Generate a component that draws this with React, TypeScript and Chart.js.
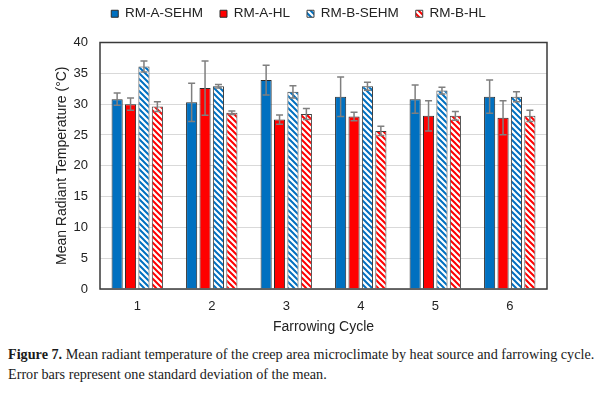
import React, { useEffect, useRef } from 'react';
import { Chart, registerables } from 'chart.js';

Chart.register(...registerables);

const cycles = ['1', '2', '3', '4', '5', '6'];
const seriesNames = ['RM-A-SEHM', 'RM-A-HL', 'RM-B-SEHM', 'RM-B-HL'];

const rmASehm = [30.8, 30.3, 33.9, 31.2, 30.8, 31.2];
const rmASehmSd = [1.0, 3.1, 2.4, 3.2, 2.3, 2.7];
const rmAHl = [30.0, 32.6, 27.5, 28.0, 28.1, 27.8];
const rmAHlSd = [1.0, 4.4, 0.75, 0.7, 2.45, 2.75];
const rmBSehm = [36.1, 32.9, 32.0, 32.9, 32.2, 31.2];
const rmBSehmSd = [0.9, 0.3, 1.0, 0.65, 0.55, 0.8];
const rmBHl = [29.6, 28.6, 28.4, 25.65, 28.1, 28.1];
const rmBHlSd = [0.8, 0.3, 0.9, 0.75, 0.7, 0.9];

const yMin = 0;
const yMax = 40;
const yStep = 5;

const BLUE = '#0070C0';
const RED = '#FF0000';

function makeHatch(color: string) {
  const s = 6;
  const c = document.createElement('canvas');
  c.width = s;
  c.height = s;
  const g = c.getContext('2d')!;
  g.fillStyle = '#ffffff';
  g.fillRect(0, 0, s, s);
  g.strokeStyle = color;
  g.lineWidth = 2;
  g.beginPath();
  for (const k of [-s, 0, s]) {
    g.moveTo(k - 1, -1);
    g.lineTo(k + s + 1, s + 1);
  }
  g.stroke();
  return g.createPattern(c, 'repeat')!;
}

export default function App() {
  const ref = useRef<HTMLCanvasElement | null>(null);

  useEffect(() => {
    const canvas = ref.current!;
    const errors = [rmASehmSd, rmAHlSd, rmBSehmSd, rmBHlSd];

    const frame = {
      id: 'frame',
      afterDatasetsDraw(chart: any) {
        const { ctx, chartArea } = chart;
        ctx.save();
        ctx.strokeStyle = '#3a3a3a';
        ctx.lineWidth = 1.5;
        ctx.strokeRect(chartArea.left, chartArea.top, chartArea.right - chartArea.left, chartArea.bottom - chartArea.top);
        ctx.restore();
      },
    };

    const errorBars = {
      id: 'errorBars',
      afterDatasetsDraw(chart: any) {
        const ctx = chart.ctx;
        const y = chart.scales.y;
        chart.data.datasets.forEach((ds: any, i: number) => {
          const meta = chart.getDatasetMeta(i);
          meta.data.forEach((bar: any, j: number) => {
            const v = ds.data[j];
            const e = errors[i][j];
            const top = y.getPixelForValue(v + e);
            const bot = y.getPixelForValue(v - e);
            ctx.save();
            ctx.strokeStyle = '#7f7f7f';
            ctx.lineWidth = 1.5;
            ctx.beginPath();
            ctx.moveTo(bar.x, top);
            ctx.lineTo(bar.x, bot);
            ctx.moveTo(bar.x - 3.5, top);
            ctx.lineTo(bar.x + 3.5, top);
            ctx.moveTo(bar.x - 3.5, bot);
            ctx.lineTo(bar.x + 3.5, bot);
            ctx.stroke();
            ctx.restore();
          });
        });
      },
    };

    const legendGap = {
      id: 'legendGap',
      beforeInit(chart: any) {
        const lg = chart.legend;
        if (!lg) return;
        const orig = lg.fit;
        lg.fit = function () {
          orig.call(this);
          this.height += 12;
        };
      },
    };

    const font = "'Liberation Sans', Arial, sans-serif";

    const chart = new Chart(canvas, {
      type: 'bar',
      data: {
        labels: cycles,
        datasets: [
          { label: seriesNames[0], data: rmASehm, backgroundColor: BLUE, borderColor: '#2b2b2b', borderWidth: 1 },
          { label: seriesNames[1], data: rmAHl, backgroundColor: RED, borderColor: '#2b2b2b', borderWidth: 1 },
          { label: seriesNames[2], data: rmBSehm, backgroundColor: makeHatch(BLUE) as any, borderColor: '#404040', borderWidth: 1 },
          { label: seriesNames[3], data: rmBHl, backgroundColor: makeHatch(RED) as any, borderColor: '#404040', borderWidth: 1 },
        ],
      },
      options: {
        responsive: false,
        animation: false,
        devicePixelRatio: 1,
        layout: { padding: { left: 50, right: 53, top: -10, bottom: 0 } },
        datasets: { bar: { categoryPercentage: 0.72, barPercentage: 0.83 } },
        plugins: {
          legend: {
            position: 'top',
            labels: {
              boxWidth: 7,
              boxHeight: 7,
              padding: 17,
              color: '#222',
              font: { family: font, size: 13.5 },
            },
          },
          tooltip: { enabled: false },
        },
        scales: {
          x: {
            grid: { display: false, drawTicks: false },
            border: { display: false },
            ticks: { color: '#222', padding: 10, font: { family: font, size: 13 } },
            title: { display: true, text: 'Farrowing Cycle', color: '#222', font: { family: font, size: 14 } },
            afterFit(scale: any) { scale.height = 51; },
          },
          y: {
            min: yMin,
            max: yMax,
            ticks: { stepSize: yStep, color: '#222', padding: 12, font: { family: font, size: 13 } },
            grid: { color: '#d9d9d9', lineWidth: 1, drawTicks: false },
            border: { display: false },
            title: { display: true, text: 'Mean Radiant Temperature (°C)', color: '#222', font: { family: font, size: 14 } },
            afterFit(scale: any) { scale.width = 50; },
          },
        },
      },
      plugins: [legendGap, frame, errorBars],
    });

    return () => chart.destroy();
  }, []);

  return (
    <div style={{ position: 'absolute', left: 0, top: 0, width: 600, height: 396, background: '#fff', overflow: 'hidden' }}>
      <canvas ref={ref} width={600} height={340} style={{ display: 'block' }} />
      <div
        style={{
          position: 'absolute',
          left: 8,
          top: 345,
          width: 592,
          fontFamily: "'Liberation Serif', 'Times New Roman', serif",
          fontSize: 14.2,
          lineHeight: '19.5px',
          color: '#1a1a1a',
          whiteSpace: 'nowrap',
        }}
      >
        <div>
          <b>Figure 7.</b> Mean radiant temperature of the creep area microclimate by heat source and farrowing cycle.
        </div>
        <div>Error bars represent one standard deviation of the mean.</div>
      </div>
    </div>
  );
}
